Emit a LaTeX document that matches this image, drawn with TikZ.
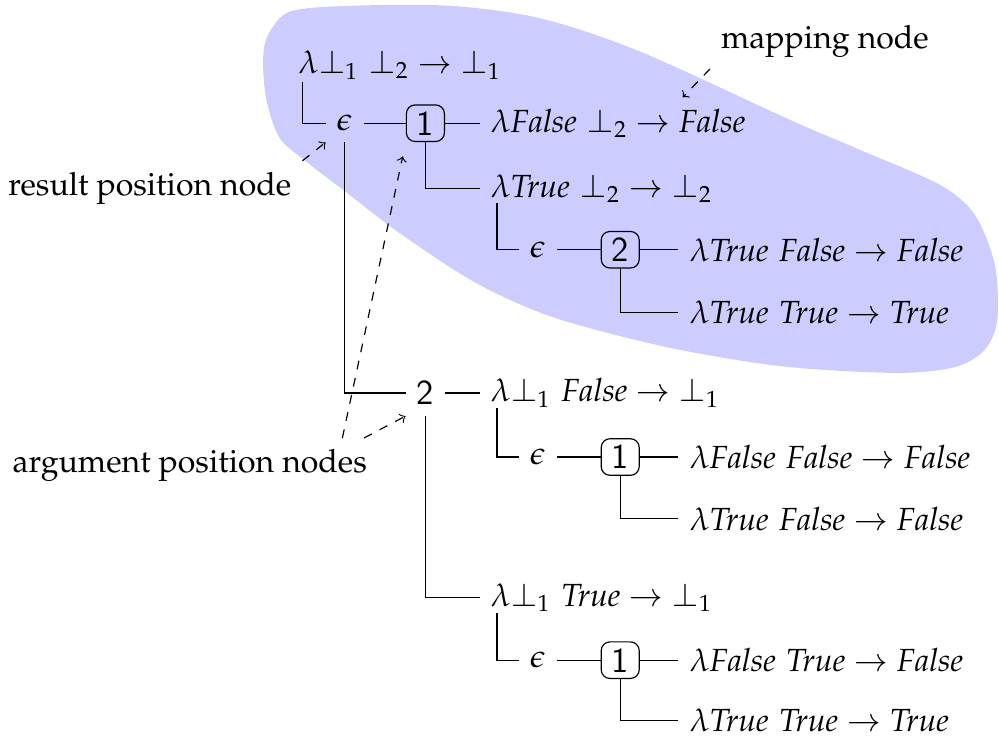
\documentclass[tikz,border=0pt,11pt]{standalone}
\usepackage{amssymb}
\usepackage{amsmath}
\usepackage{mathpazo}
\usepackage{tikz}

\newcommand{\vF}{\mathit{False}}
\newcommand{\vT}{\mathit{True}}
\newcommand{\pal}{\fontencoding{T1}\fontfamily{ppl}\selectfont}

\tikzset{
  term/.style={anchor=west},
  posbox/.style={draw,rounded corners=3pt,inner sep=1.5pt,minimum width=13pt,minimum height=12.5pt,font=\sffamily\large},
  annot/.style={dashed,->},
  callout/.style={font=\pal},
}

\begin{document}
\begin{tikzpicture}
\useasboundingbox (0,0) rectangle (12,-8.84);
% the part that is one mapping
\fill[blue!20] plot[smooth cycle] coordinates {(3.16,-0.72) (3.22,-0.42) (3.48,-0.14) (4.20,-0.07) (5.41,-0.07) (6.49,-0.22) (7.69,-0.62) (9.49,-1.44) (10.33,-1.80) (11.29,-2.22) (11.71,-2.58) (11.95,-3.18) (11.98,-3.84) (11.83,-4.20) (11.47,-4.41) (10.76,-4.48) (9.39,-4.40) (8.01,-4.17) (6.64,-3.81) (5.72,-3.40) (4.80,-2.80) (4.12,-2.28) (3.69,-1.95) (3.36,-1.66) (3.20,-1.20)};

\node[term] (root) at (3.45,-0.78) {$\lambda\bot_1\ \bot_2 \rightarrow \bot_1$};
\node (eps1) at (4.14,-1.48) {$\epsilon$};
\node[posbox] (box1) at (5.11,-1.48) {1};
\node[term] (t1) at (5.76,-1.48) {$\lambda\vF\ \bot_2 \rightarrow \vF$};
\node[term] (t2) at (5.76,-2.26) {$\lambda\vT\ \bot_2 \rightarrow \bot_2$};
\node (eps2) at (6.46,-3.00) {$\epsilon$};
\node[posbox] (box2) at (7.45,-3.00) {2};
\node[term] (t3) at (8.15,-3.00) {$\lambda\vT\ \vF \rightarrow \vF$};
\node[term] (t4) at (8.15,-3.75) {$\lambda\vT\ \vT \rightarrow \vT$};

\node[font=\sffamily\large] (arg2) at (5.11,-4.72) {2};
\node[term] (t5) at (5.76,-4.72) {$\lambda\bot_1\ \vF \rightarrow \bot_1$};
\node (eps3) at (6.46,-5.49) {$\epsilon$};
\node[posbox] (box3) at (7.45,-5.49) {1};
\node[term] (t6) at (8.15,-5.49) {$\lambda\vF\ \vF \rightarrow \vF$};
\node[term] (t7) at (8.15,-6.23) {$\lambda\vT\ \vF \rightarrow \vF$};
\node[term] (t8) at (5.76,-7.18) {$\lambda\bot_1\ \vT \rightarrow \bot_1$};
\node (eps4) at (6.46,-7.93) {$\epsilon$};
\node[posbox] (box4) at (7.45,-7.93) {1};
\node[term] (t9) at (8.15,-7.93) {$\lambda\vF\ \vT \rightarrow \vF$};
\node[term] (t10) at (8.15,-8.65) {$\lambda\vT\ \vT \rightarrow \vT$};

% tree lines
\draw ([xshift=.18cm,yshift=3pt]root.south west) |- (eps1);
\draw (eps1) -- (box1);
\draw (box1) -- (t1);
\draw (box1.south) |- (t2.west);
\draw ([xshift=.21cm,yshift=3.5pt]t2.south west) |- (eps2);
\draw (eps2) -- (box2);
\draw (box2) -- (t3);
\draw (box2.south) |- (t4.west);
\draw (eps1.south) |- (arg2);
\draw (arg2) -- (t5);
\draw (arg2.south) |- (t8.west);
\draw ([xshift=.21cm,yshift=3.5pt]t5.south west) |- (eps3);
\draw (eps3) -- (box3);
\draw (box3) -- (t6);
\draw (box3.south) |- (t7.west);
\draw ([xshift=.21cm,yshift=3.5pt]t8.south west) |- (eps4);
\draw (eps4) -- (box4);
\draw (box4) -- (t9);
\draw (box4.south) |- (t10.west);

% what the parts are called
\node[callout] (maplabel) at (9.91,-0.50) {mapping node};
\node[callout] (reslabel) at (1.80,-2.26) {result position node};
\node[callout] (arglabel) at (2.28,-5.59) {argument position nodes};
\coordinate (mapto) at (8.2,-1.17);
\draw[annot] (maplabel.south west) -- (mapto);
\draw[annot] (reslabel.north east) -- (eps1.south west);
\draw[annot,shorten >=5pt] ([xshift=-.43cm]arglabel.north east) -- (box1.south west);
\draw[annot] ([xshift=-.17cm]arglabel.north east) -- (arg2.south west);
\end{tikzpicture}
\end{document}
